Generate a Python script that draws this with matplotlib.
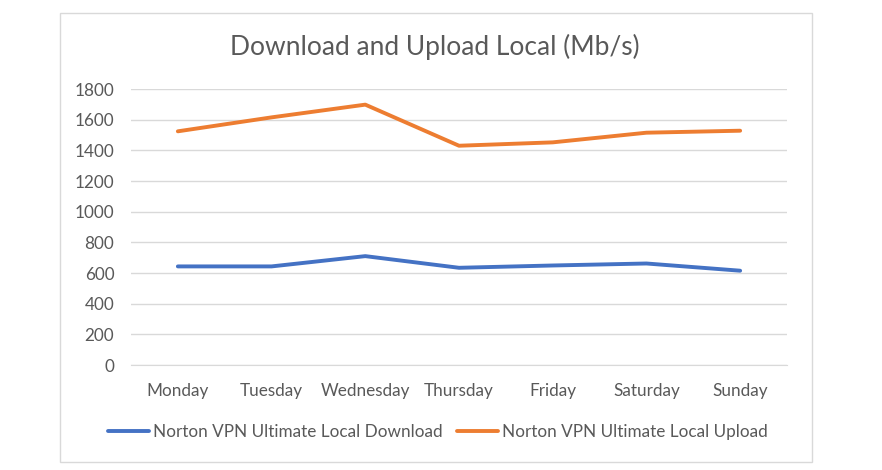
import matplotlib
matplotlib.use("Agg")
import matplotlib.pyplot as plt
from matplotlib.patches import Rectangle

days = ["Monday", "Tuesday", "Wednesday", "Thursday", "Friday", "Saturday", "Sunday"]
download = [643, 643, 710, 634, 649, 662, 615]
upload = [1524, 1615, 1698, 1430, 1452, 1515, 1528]
yticks = [0, 200, 400, 600, 800, 1000, 1200, 1400, 1600, 1800]

plt.rcParams['font.family'] = ['Lato', 'DejaVu Sans']
txt = '#595959'

W, H = 882, 470
fig = plt.figure(figsize=(W/100, H/100), dpi=100)
fig.patches.append(Rectangle((60/W, 1-462/H), (812-60)/W, (462-13)/H, transform=fig.transFigure,
                             fill=False, edgecolor='#D9D9D9', linewidth=1))

ax = fig.add_axes([131/W, 1-365/H, (787-131)/W, (365-89)/H])
x = list(range(len(days)))
ax.plot(x, download, color='#4472C4', linewidth=2.8, solid_capstyle='round', solid_joinstyle='round',
        label='Norton VPN Ultimate Local Download')
ax.plot(x, upload, color='#ED7D31', linewidth=2.8, solid_capstyle='round', solid_joinstyle='round',
        label='Norton VPN Ultimate Local Upload')
ax.set_xlim(-0.5, len(days)-0.5)
ax.set_ylim(0, 1800)
ax.set_yticks(yticks)
ax.set_yticklabels([str(v) for v in yticks])
ax.set_xticks(x)
ax.set_xticklabels(days)
ax.tick_params(axis='both', length=0, labelsize=12.3, colors=txt, labelcolor=txt)
ax.tick_params(axis='x', pad=13)
ax.tick_params(axis='y', pad=12)
ax.grid(axis='y', color='#D9D9D9', linewidth=1)
ax.set_axisbelow(True)
for s in ['top', 'right', 'left']:
    ax.spines[s].set_visible(False)
ax.spines['bottom'].set_color('#D9D9D9')

fig.text(435/W, 1-47/H, 'Download and Upload Local (Mb/s)', ha='center', va='center', fontsize=19, color=txt)

fig.legend(loc='center', bbox_to_anchor=(438/W, 1-432/H), ncol=2, frameon=False, fontsize=12.3,
           labelcolor=txt, handlelength=2.4, handletextpad=0.25, columnspacing=0.8)

fig.savefig('out.png', dpi=100)
